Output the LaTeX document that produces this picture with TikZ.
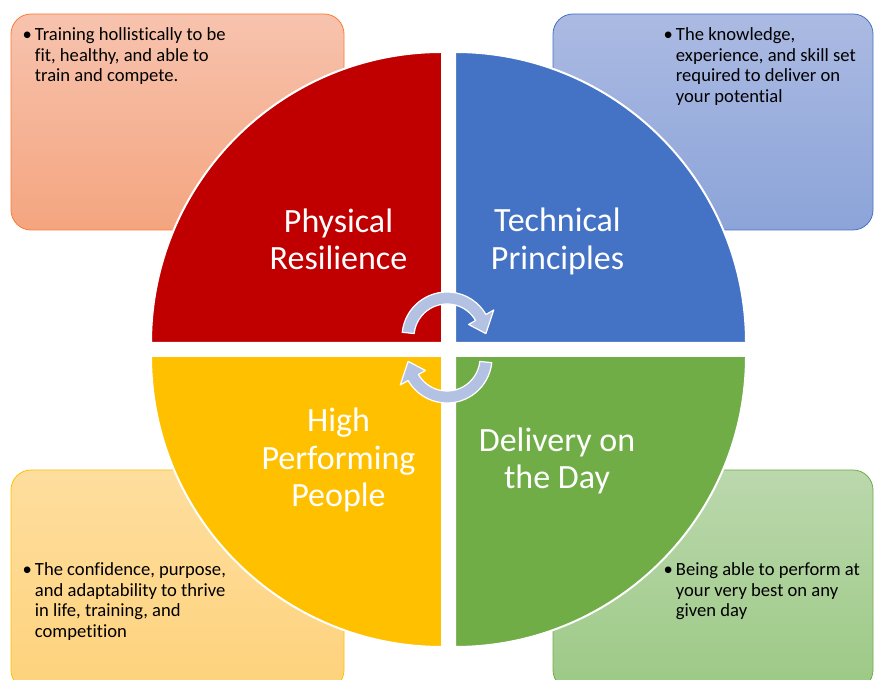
\documentclass[tikz,border=0pt]{standalone}
\usepackage{fontspec}
\setmainfont{Carlito}[Ligatures=NoCommon]

\definecolor{physred}{HTML}{C00000}
\definecolor{techblue}{HTML}{4472C4}
\definecolor{peoplegold}{HTML}{FFC000}
\definecolor{daygreen}{HTML}{70AD47}
\definecolor{arrowfill}{HTML}{B3C1E3}

\begin{document}
\begin{tikzpicture}[x=1pt, y=1pt]
\tikzset{
    notebox/.style={rounded corners=20pt, line width=0.8pt},
    quadrant/.style={draw=white, line width=2pt},
    pillar/.style={text=white, align=center, inner sep=0pt, font=\fontsize{34}{37.5}\selectfont},
    note/.style={anchor=base west, inner sep=0pt, font=\fontsize{18.6}{20.5}\selectfont},
    cyclearrow/.style={fill=arrowfill, draw=white, line width=1.2pt, line join=round}
}

\useasboundingbox (0,0) rectangle (874,679);
\clip (0,0) rectangle (874,679);

% boxes
\draw[notebox, draw=orange!70!red!80!white, top color={rgb,255:red,247;green,195;blue,174}, bottom color={rgb,255:red,244;green,165;blue,127}] (11,449) rectangle (344,665);
\draw[notebox, draw=techblue, top color={rgb,255:red,171;green,186;blue,226}, bottom color={rgb,255:red,140;green,164;blue,217}] (553,449) rectangle (873,665);
\draw[notebox, draw=peoplegold, top color={rgb,255:red,254;green,222;blue,158}, bottom color={rgb,255:red,254;green,210;blue,124}] (11,-11) rectangle (344,209);
\draw[notebox, draw=daygreen, top color={rgb,255:red,187;green,216;blue,173}, bottom color={rgb,255:red,156;green,201;blue,133}] (553,-11) rectangle (873,209);

% quadrants
\filldraw[quadrant, fill=physred] (442,336) -- ++(180:291) arc[start angle=180, end angle=90, radius=291] -- cycle;
\filldraw[quadrant, fill=techblue] (455,336) -- ++(90:291) arc[start angle=90, end angle=0, radius=291] -- cycle;
\filldraw[quadrant, fill=peoplegold] (442,323) -- ++(270:291) arc[start angle=270, end angle=180, radius=291] -- cycle;
\filldraw[quadrant, fill=daygreen] (455,323) -- ++(0:291) arc[start angle=0, end angle=-90, radius=291] -- cycle;

% circular arrows
\draw[cyclearrow, shift={(447,342)}] (174:45) arc[start angle=174, end angle=30, radius=45] -- (30:54) -- (5:39) -- (30:25) -- (30:33) arc[start angle=30, end angle=174, radius=33] -- cycle;
\draw[cyclearrow, shift={(447,321)}, rotate=180] (174:45) arc[start angle=174, end angle=30, radius=45] -- (30:54) -- (5:39) -- (30:25) -- (30:33) arc[start angle=30, end angle=174, radius=33] -- cycle;

% labels
\node[pillar] (physical)  at (338.5,439.5) {Physical\\Resilience};
\node[pillar] (technical) at (557.5,437.5) {Technical\\Principles};
\node[pillar] (people)    at (338.5,219)   {High\\Performing\\People};
\node[pillar] (delivery)  at (557,218)     {Delivery on\\the Day};

% notes
\node[note] (physnote) at (22.5,638) {\begin{tabular}[t]{@{}l@{\hspace{3pt}}l@{}}\textbullet & Training hollistically to be\\ & fit, healthy, and able to\\ & train and compete.\end{tabular}};
\node[note] (technote) at (663.5,638) {\begin{tabular}[t]{@{}l@{\hspace{3pt}}l@{}}\textbullet & The knowledge,\\ & experience, and skill set\\ & required to deliver on\\ & your potential\end{tabular}};
\node[note] (peoplenote) at (22.5,103) {\begin{tabular}[t]{@{}l@{\hspace{3pt}}l@{}}\textbullet & The confidence, purpose,\\ & and adaptability to thrive\\ & in life, training, and\\ & competition\end{tabular}};
\node[note] (daynote) at (663.5,103) {\begin{tabular}[t]{@{}l@{\hspace{3pt}}l@{}}\textbullet & Being able to perform at\\ & your very best on any\\ & given day\end{tabular}};

\end{tikzpicture}
\end{document}
